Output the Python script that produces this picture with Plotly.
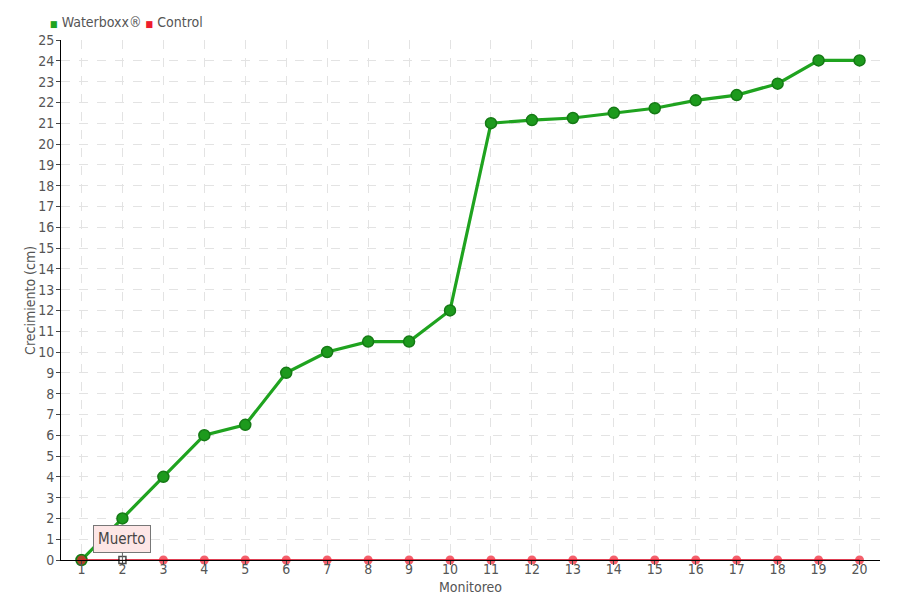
import plotly.graph_objects as go

monitoreo = list(range(1, 21))
waterboxx = [0, 2, 4, 6, 6.5, 9, 10, 10.5, 10.5, 12, 21, 21.15, 21.25, 21.5, 21.72, 22.1, 22.35, 22.9, 24.02, 24.02]
control = [0] * 20
y_ticks = list(range(0, 26))
series_names = ["Waterboxx®", "Control"]
x_title = "Monitoreo"
y_title = "Crecimiento (cm)"

FONT = "DejaVu Sans Condensed, sans-serif"
GREEN = "#1fa31f"
RED = "#ee1c2e"

fig = go.Figure()
fig.add_trace(go.Scatter(
    x=monitoreo, y=waterboxx, name=series_names[0], mode="lines+markers", cliponaxis=False,
    line=dict(color=GREEN, width=3.2),
    marker=dict(size=11, color="#1d9a1d", line=dict(color="#157a15", width=1.5)),
))
ctrl_symbols = ["circle"] * 20
ctrl_colors = [RED] * 20
ctrl_line_colors = [RED] * 20
ctrl_line_widths = [0] * 20
ctrl_sizes = [9] * 20
ctrl_symbols[1] = "square"
ctrl_colors[1] = "white"
ctrl_line_colors[1] = "black"
ctrl_line_widths[1] = 1.5
ctrl_sizes[1] = 7
fig.add_trace(go.Scatter(
    x=monitoreo, y=control, name=series_names[1], mode="lines+markers", cliponaxis=False,
    line=dict(color="#d4001a", width=1.5),
    marker=dict(size=ctrl_sizes, color=ctrl_colors, symbol=ctrl_symbols,
                line=dict(color=ctrl_line_colors, width=ctrl_line_widths)),
))

# compact legend like the original (small square swatches)
legend_text = (f'<span style="color:{GREEN};font-size:9px">■</span> {series_names[0]} '
               f'<span style="color:{RED};font-size:9px">■</span> {series_names[1]}')
fig.add_annotation(xref="paper", yref="paper", x=-0.016, y=1.035, xanchor="left", yanchor="middle",
                   text=legend_text, showarrow=False, font=dict(size=14, color="#555", family=FONT))

# axis titles
fig.add_annotation(xref="paper", yref="paper", x=0.5, y=-0.051, xanchor="center", yanchor="middle",
                   text=x_title, showarrow=False, font=dict(size=14, color="#555", family=FONT))
fig.add_annotation(xref="paper", yref="paper", x=-0.038, y=0.5, xanchor="center", yanchor="middle",
                   textangle=-90, text=y_title, showarrow=False,
                   font=dict(size=14, color="#555", family=FONT))

fig.add_annotation(x=2, y=0, text="Muerto", showarrow=True, arrowhead=0, arrowwidth=1,
                   arrowcolor="#666", ax=0, ay=-21, bgcolor="#fde6e6", bordercolor="#777",
                   borderwidth=1, borderpad=4, font=dict(size=15, color="#444", family=FONT))

grid = dict(showgrid=True, gridcolor="#e3e3e3", griddash="dash", gridwidth=1)
fig.update_layout(
    width=900, height=600,
    margin=dict(l=53, r=28, t=32, b=48, autoexpand=False),
    paper_bgcolor="white", plot_bgcolor="white",
    font=dict(family=FONT, color="#555", size=14),
    showlegend=False,
    xaxis=dict(range=[0.5, 20.5], tickvals=monitoreo, ticks="outside", ticklen=4,
               showline=True, linecolor="black", linewidth=1, zeroline=False, automargin=False,
               tickfont=dict(size=14, color="#555"), ticklabelstandoff=-8,
               **grid),
    yaxis=dict(range=[0, 25], tickvals=y_ticks, ticks="outside", ticklen=4,
               showline=True, linecolor="black", linewidth=1, zeroline=False, automargin=False,
               tickfont=dict(size=14, color="#555"), ticklabelstandoff=-1,
               **grid),
)
fig.write_html("out.html")
